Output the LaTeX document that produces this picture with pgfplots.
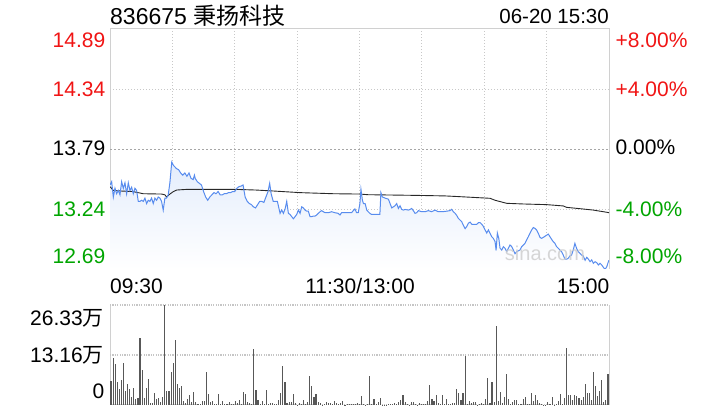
\documentclass[border=0pt]{standalone}
\usepackage{pgfplots}
\pgfplotsset{compat=1.18}
\usepackage{pgfplotstable}
\usepackage{fontspec}
\setmainfont{Liberation Sans}
\newfontfamily\cjk{Noto Sans CJK SC}

\definecolor{upred}{RGB}{240,20,20}
\definecolor{downgreen}{RGB}{0,165,0}
\definecolor{priceblue}{RGB}{88,140,238}
\definecolor{avgline}{RGB}{40,40,40}
\definecolor{framec}{RGB}{208,208,208}
\definecolor{gridc}{RGB}{200,200,200}
\definecolor{volbar}{RGB}{88,88,88}
\definecolor{fillblue}{RGB}{228,237,252}

% minute (0 = 09:30, 120 = 11:30/13:00, 240 = 15:00), price
\pgfplotstableread{
t p
0 13.46
0.8 13.49
1.6 13.35
2.4 13.43
3.2 13.38
4.0 13.41
4.8 13.37
5.6 13.49
6.4 13.43
7.2 13.48
8.0 13.38
8.8 13.48
9.6 13.41
10.4 13.44
11.2 13.38
12.0 13.43
12.8 13.41
13.6 13.31
14.4 13.31
15.2 13.32
16.0 13.31
16.8 13.34
17.6 13.29
18.4 13.32
19.2 13.31
20.0 13.34
20.8 13.29
21.6 13.34
22.4 13.32
23.2 13.35
24.0 13.34
24.8 13.31
25.6 13.23
26.4 13.34
27.2 13.34
28.0 13.37
28.8 13.48
29.7 13.67
30.5 13.64
31 13.63
32 13.61
33 13.60
34 13.57
35 13.55
36 13.57
37 13.54
38 13.57
39 13.52
40 13.51
40.6 13.55
41 13.52
42 13.49
43 13.475
44 13.46
45 13.40
46 13.35
47 13.32
48 13.35
49 13.37
50 13.39
51 13.38
52 13.40
53 13.37
54 13.37
55 13.38
56 13.38
57 13.39
58 13.39
59 13.40
60 13.40
61 13.43
62 13.445
63 13.45
64 13.46
65 13.35
66 13.31
67 13.29
68 13.28
69 13.26
70 13.25
71 13.28
72 13.31
73 13.31
74 13.30
75 13.35
76 13.40
76.8 13.475
77.5 13.38
78.5 13.31
79.4 13.31
80.5 13.31
81.8 13.20
82.6 13.23
83.4 13.20
84.2 13.24
85 13.31
85.8 13.20
86.6 13.19
87.4 13.17
88.2 13.15
89 13.17
89.8 13.19
90.6 13.23
91.4 13.20
92.2 13.26
93 13.25
93.8 13.23
94.6 13.22
95.4 13.22
96.2 13.17
97 13.17
97.8 13.175
98.6 13.175
99.4 13.185
100.2 13.20
101 13.215
101.8 13.225
102.6 13.215
103.4 13.206
105 13.206
106.6 13.215
108.2 13.206
109.8 13.20
110.6 13.185
111.4 13.206
113 13.206
114.6 13.206
116.2 13.206
117 13.225
117.8 13.24
118.6 13.206
119.4 13.206
120.2 13.29
120.7 13.42
121.4 13.32
121.9 13.29
122.7 13.29
123.5 13.23
124.2 13.215
125 13.20
125.8 13.19
127.4 13.19
129 13.19
129.8 13.19
130.3 13.39
131 13.35
132.3 13.34
133.9 13.33
134.7 13.29
135.5 13.25
136.3 13.26
137.1 13.27
137.9 13.29
138.7 13.245
139.5 13.27
140.3 13.236
141.1 13.23
141.9 13.236
143.5 13.23
144.3 13.236
145.1 13.245
145.9 13.225
146.7 13.20
147.5 13.206
148.3 13.225
149.9 13.215
151.5 13.215
153.1 13.225
154.7 13.215
156.3 13.23
157.9 13.215
158.7 13.216
160.3 13.216
161.9 13.22
163.5 13.225
164.3 13.237
165.1 13.216
166 13.20
166.8 13.18
167.5 13.155
168.3 13.14
169.1 13.125
169.9 13.094
170.8 13.06
171.6 13.08
172.4 13.11
173.2 13.12
174 13.10
174.8 13.10
175.6 13.10
176.4 13.10
177.2 13.115
178 13.115
178.8 13.10
179.6 13.08
180.4 13.048
181.2 13.02
182 13.048
182.8 13.017
183.6 12.986
184.4 12.97
185.2 12.94
185.7 12.86
186.3 13.02
187 12.97
187.6 12.88
188.4 12.864
189.2 12.895
190 12.88
190.8 12.85
191.6 12.88
192.4 12.91
193.2 12.895
194 12.864
194.8 12.83
195.6 12.849
197.2 12.864
198 12.895
198.8 12.91
199.6 12.925
200.4 12.956
201.2 12.986
202 13.017
202.8 13.048
203.6 13.07
204.4 13.063
205.2 13.048
206 13.017
206.8 12.98
207.6 12.971
208.4 12.98
210 13.00
210.8 13.01
211.6 12.986
212.4 12.962
213.2 12.94
214 12.925
214.8 12.895
215.6 12.88
216.4 12.864
217.2 12.849
218 12.818
218.8 12.78
219.6 12.78
220.4 12.788
221.2 12.81
222 12.818
222.8 12.864
223.6 12.925
224.4 12.88
225.2 12.849
226 12.834
226.8 12.818
227.6 12.81
228.5 12.77
229.3 12.797
230.1 12.78
230.9 12.757
231.7 12.773
232.5 12.742
233.3 12.757
234.1 12.748
234.9 12.727
235.7 12.742
236.5 12.727
237.3 12.705
238.1 12.687
238.9 12.71
239.7 12.757
240 12.77
}\price

% average price
\pgfplotstableread{
t p
0 13.445
1.6 13.41
5 13.405
11 13.40
16 13.38
24.8 13.377
26.4 13.37
27.2 13.35
28.8 13.377
30.5 13.40
32.1 13.414
37 13.42
60 13.42
70 13.414
78.5 13.405
91.4 13.39
107.4 13.38
120.2 13.377
124 13.371
135.5 13.368
146.7 13.365
161 13.36
168.3 13.353
182.8 13.338
185.2 13.32
190.8 13.292
198.8 13.286
210 13.28
218 13.268
219.6 13.255
226 13.243
232.5 13.23
238.9 13.21
240 13.206
}\avgprice

\begin{document}
\begin{tikzpicture}[x=1pt,y=1pt]
\path[use as bounding box] (0,0) rectangle (720,420);

% price panel
\begin{axis}[
  at={(110pt,151pt)}, anchor=south west,
  width=499pt, height=240pt, scale only axis,
  xmin=0, xmax=240, ymin=12.69, ymax=14.89,
  xtick={30,60,...,210}, ytick={14.34,13.24},
  xticklabels={}, yticklabels={},
  major tick length=0pt,
  xmajorgrids, ymajorgrids,
  grid style={gridc, line width=0.8pt, dash pattern=on 1pt off 2pt},
  extra y ticks={13.79}, extra y tick labels={},
  extra y tick style={grid style={gray!70, line width=0.8pt, dash pattern=on 2pt off 2pt}},
  axis line style={framec, line width=1pt},
]
\addplot[draw=none, top color=fillblue, bottom color=white] table[x=t,y=p]{\price} \closedcycle;
\addplot[avgline, line width=0.9pt] table[x=t,y=p]{\avgprice};
\addplot[priceblue, line width=1pt] table[x=t,y=p]{\price};
\end{axis}

% volume panel (in 10k shares)
\begin{axis}[
  at={(110pt,15pt)}, anchor=south west,
  width=499pt, height=100pt, scale only axis,
  xmin=-0.5, xmax=240.5, ymin=0, ymax=26.33,
  axis lines=none, clip=false,
]
\draw[framec, line width=1pt] (rel axis cs:0,0) -- (rel axis cs:0,1);
\draw[framec, line width=1pt] (rel axis cs:1,0) -- (rel axis cs:1,1);
\draw[gray!45, line width=1.4pt, dash pattern=on 1.2pt off 1.2pt] (rel axis cs:0,1) -- (rel axis cs:1,1);
\draw[gray!45, line width=1.4pt, dash pattern=on 1.2pt off 1.2pt] (rel axis cs:0,0.5) -- (rel axis cs:1,0.5);
\draw[gray!45, line width=1pt, dash pattern=on 1pt off 1pt] (rel axis cs:0,0) -- (rel axis cs:1,0);
\addplot[ycomb, volbar, line width=1.1pt] coordinates {
(0,6.32) (1,12.29) (2,10.8) (3,6.06) (4,4.2) (5,6.58) (6,11.06) (7,3.69) (8,5.53) (9,4.2)
(10,2.1) (11,4.48) (12,1.58) (13,1.84) (14,17.64) (15,9.2) (16,1.84) (17,4.48) (18,6.85) (19,0.53)
(20,0.53) (21,3.16) (22,1.58) (23,1.84) (24,0.79) (25,2.1) (26,26.33) (27,3.69) (28,3.69) (29,8.69)
(30,11.06) (31,17.1) (32,5.53) (33,4.48) (34,5.0) (35,1.05) (36,0.53) (37,1.58) (38,2.63) (39,0.79)
(40,3.42) (41,0.79) (42,0.26) (43,0.26) (44,1.05) (45,1.05) (46,8.69) (47,2.9) (48,0.79) (49,1.05)
(50,0.26) (51,0.26) (52,2.9) (53,0.26) (54,1.05) (55,0.26) (56,0.26) (57,0.79) (58,0.26) (59,0.26)
(60,1.05) (61,0.53) (62,1.32) (63,0.26) (64,3.42) (65,2.9) (66,0.79) (67,0.53) (68,0.26) (69,14.74)
(70,3.95) (71,1.32) (72,0.26) (73,1.05) (74,0.26) (75,3.95) (76,0.26) (77,0.53) (78,0.53) (79,0.26)
(80,0.26) (81,1.32) (82,3.16) (83,10.27) (84,6.06) (85,0.53) (86,0.79) (87,0.79) (88,2.9) (89,0.53)
(90,0.1) (91,0.53) (92,0.26) (93,1.32) (94,0.26) (95,0.79) (96,7.64) (97,5.0) (98,2.1) (99,2.9)
(100,0.79) (101,0.53) (102,0.1) (103,0.26) (104,0.79) (105,0.53) (106,0.53) (107,0.26) (108,1.05) (109,0.53)
(110,0.26) (111,0.53) (112,1.05) (113,0.1) (114,0.26) (115,0.26) (116,0.26) (117,0.26) (118,0.26) (119,0.53)
(120,0.26) (121,2.37) (122,0.26) (123,0.1) (124,0.26) (125,7.64) (126,0.26) (127,1.58) (128,0.26) (129,0.79)
(130,1.84) (131,0.1) (132,0.1) (133,0.1) (134,0.26) (135,0.26) (136,0.26) (137,0.53) (138,0.26) (139,0.79)
(140,1.32) (141,2.63) (142,0.79) (143,0.26) (144,0.1) (145,0.79) (146,0.79) (147,0.26) (148,0.1) (149,0.53)
(150,0.26) (151,0.26) (152,0.26) (153,1.05) (154,5.27) (155,1.58) (156,1.05) (157,2.63) (158,0.53) (159,0.26)
(160,2.63) (161,0.26) (162,1.58) (163,0.26) (164,0.26) (165,0.53) (166,0.53) (167,4.2) (168,3.16) (169,1.32)
(170,3.16) (171,12.9) (172,0.26) (173,1.05) (174,0.53) (175,0.79) (176,0.79) (177,0.1) (178,0.26) (179,0.53)
(180,0.26) (181,1.58) (182,7.1) (183,0.53) (184,6.06) (185,0.79) (186,20.8) (187,1.05) (188,3.42) (189,0.53)
(190,2.1) (191,8.16) (192,1.58) (193,0.26) (194,0.79) (195,1.32) (196,1.32) (197,0.26) (198,0.26) (199,1.58)
(200,2.1) (201,0.26) (202,0.26) (203,3.16) (204,1.05) (205,2.63) (206,1.32) (207,0.53) (208,0.26) (209,0.1)
(210,0.1) (211,0.79) (212,0.26) (213,2.1) (214,0.1) (215,0.26) (216,1.05) (217,2.9) (218,0.26) (219,1.84)
(220,15.0) (221,2.63) (222,2.63) (223,1.32) (224,2.63) (225,2.37) (226,1.84) (227,1.32) (228,2.1) (229,5.5)
(230,3.16) (231,3.16) (232,1.32) (233,8.69) (234,5.0) (235,2.37) (236,3.69) (237,6.58) (238,0.79) (239,1.32)
(240,8.16)
};
\end{axis}

% watermark
\node[text=gray!40, font=\fontsize{20}{24}\selectfont, opacity=0.8] at (545,167) {sina.com};

% title line
\node[anchor=base west, font=\fontsize{23}{27}\selectfont, inner sep=0pt] at (110,395) {836675 {\cjk 秉扬科技}};
\node[anchor=base east, font=\fontsize{20.5}{24}\selectfont, inner sep=0pt] at (609,396) {06-20 15:30};

% left price labels
\begin{scope}[every node/.style={anchor=base east, inner sep=0pt, font=\fontsize{21}{25}\selectfont}]
\node[text=upred] at (105.5,372.5) {14.89};
\node[text=upred] at (105.5,323) {14.34};
\node[text=black] at (105.5,264) {13.79};
\node[text=downgreen] at (105.5,203.5) {13.24};
\node[text=downgreen] at (105.5,156) {12.69};
\end{scope}

% right percentage labels
\begin{scope}[every node/.style={anchor=base west, inner sep=0pt, font=\fontsize{21}{25}\selectfont}]
\node[text=upred] at (615.5,372.5) {+8.00\%};
\node[text=upred] at (615.5,323.5) {+4.00\%};
\node[text=black] at (615.5,265) {0.00\%};
\node[text=downgreen] at (615.5,203.5) {-4.00\%};
\node[text=downgreen] at (615.5,156.5) {-8.00\%};
\end{scope}

% time labels
\begin{scope}[every node/.style={inner sep=0pt, font=\fontsize{21}{25}\selectfont}]
\node[anchor=base west] at (110,126) {09:30};
\node[anchor=base] at (360,126) {11:30/13:00};
\node[anchor=base east] at (609.5,126) {15:00};
\end{scope}

% volume labels
\begin{scope}[every node/.style={anchor=base east, inner sep=0pt, font=\fontsize{21}{25}\selectfont}]
\node at (104,94) {26.33{\cjk 万}};
\node at (104,57.5) {13.16{\cjk 万}};
\node at (104.5,21) {0};
\end{scope}
\end{tikzpicture}
\end{document}
